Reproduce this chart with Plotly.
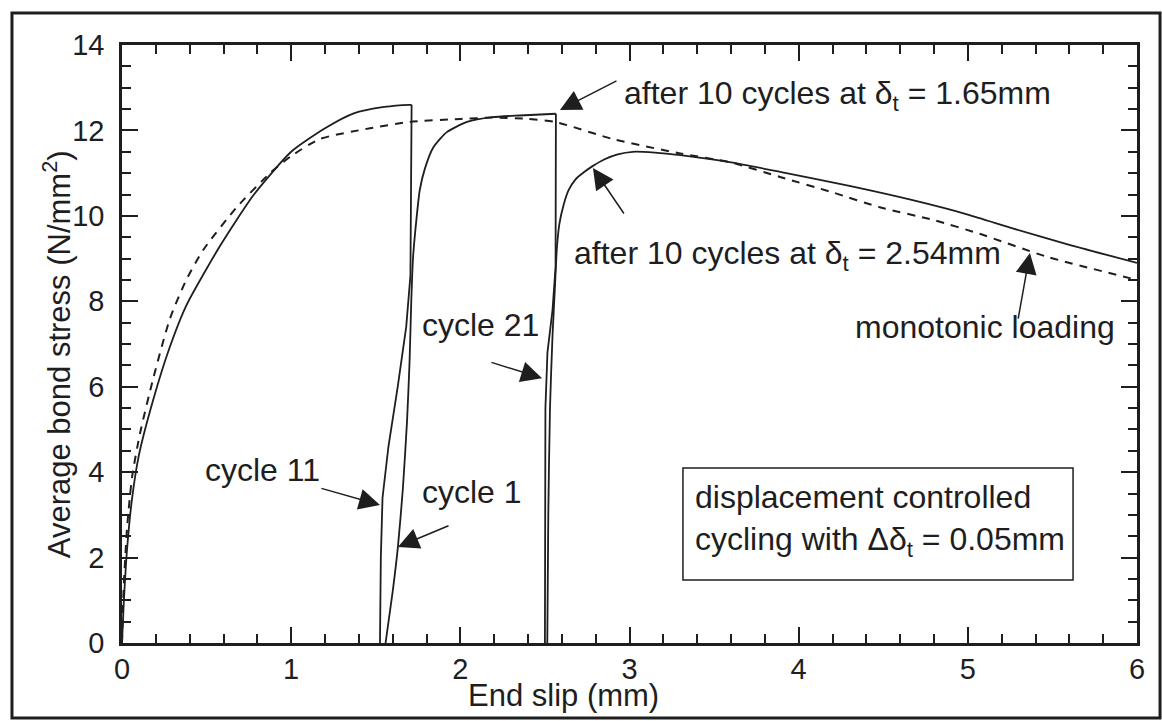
import plotly.graph_objects as go

# ---------------- data ----------------
# monotonic loading (dashed)
mono_x = [0, 0.01, 0.03, 0.06, 0.106, 0.185, 0.284, 0.38, 0.48, 0.678, 0.875, 1.0, 1.17,
          1.466, 1.7, 2.0, 2.2, 2.4, 2.56, 2.9, 3.3, 3.6, 3.89, 4.2, 4.48, 4.8, 5.07, 5.47, 6.0]
mono_y = [0, 1.3, 2.7, 3.9, 4.9, 6.2, 7.6, 8.5, 9.2, 10.2, 11.0, 11.4, 11.8,
          12.05, 12.2, 12.27, 12.3, 12.27, 12.2, 11.8, 11.46, 11.25, 10.91, 10.55, 10.2, 9.9, 9.58, 9.04, 8.5]

# first loading up to the first cycling level
load1_x = [0, 0.01, 0.03, 0.06, 0.1, 0.185, 0.28, 0.38, 0.58, 0.78, 1.0, 1.2, 1.37, 1.55, 1.7, 1.712]
load1_y = [0, 0.9, 2.2, 3.4, 4.4, 5.7, 6.9, 7.9, 9.3, 10.5, 11.5, 12.05, 12.4, 12.55, 12.6, 12.6]

# unloading branch (cycle 11)
unl1_x = [1.712, 1.71, 1.705, 1.68, 1.63, 1.575, 1.54, 1.53, 1.525]
unl1_y = [12.6, 10.5, 8.6, 7.4, 6.0, 4.6, 3.4, 2.0, 0]

# reloading branch (cycle 1) and plateau
rel1_x = [1.558, 1.60, 1.631, 1.66, 1.685, 1.70, 1.71, 1.72, 1.74, 1.76, 1.79, 1.84, 1.92,
          2.04, 2.19, 2.35, 2.565]
rel1_y = [0, 1.2, 2.25, 3.6, 5.2, 6.6, 8.0, 9.0, 9.9, 10.6, 11.1, 11.6, 11.96,
          12.2, 12.31, 12.35, 12.39]

# second unloading branch
unl2_x = [2.565, 2.565, 2.563, 2.545, 2.515, 2.503, 2.50, 2.50]
unl2_y = [12.39, 10.0, 8.8, 7.8, 6.8, 5.5, 3.0, 0]

# reloading branch (cycle 21) and post-peak
rel2_x = [2.514, 2.52, 2.53, 2.545, 2.56, 2.57, 2.585, 2.61, 2.64, 2.68, 2.73, 2.784, 2.85,
          2.93, 3.02, 3.15, 3.3, 3.6, 3.89, 4.3, 4.68, 5.0, 5.27, 5.6, 6.0]
rel2_y = [0, 3.0, 5.5, 7.2, 8.4, 9.2, 9.8, 10.25, 10.6, 10.85, 11.02, 11.17, 11.32,
          11.44, 11.5, 11.48, 11.42, 11.25, 11.03, 10.7, 10.36, 10.03, 9.7, 9.32, 8.9]

x_ticks = [0, 1, 2, 3, 4, 5, 6]
y_ticks = [0, 2, 4, 6, 8, 10, 12, 14]

FONT = "Liberation Sans, Arial, Helvetica, sans-serif"
INK = "#1e1e1e"

fig = go.Figure()
fig.add_trace(go.Scatter(x=mono_x, y=mono_y, mode="lines",
                         line=dict(color=INK, width=2, dash="8px,7px", shape="spline",
                                   smoothing=0.6),
                         showlegend=False))
for xs, ys, shp in [(load1_x, load1_y, "spline"), (unl1_x, unl1_y, "linear"),
                    (rel1_x, rel1_y, "spline"), (unl2_x, unl2_y, "linear"),
                    (rel2_x, rel2_y, "spline")]:
    ln = dict(color=INK, width=1.8, shape=shp)
    if shp == "spline":
        ln["smoothing"] = 0.6
    fig.add_trace(go.Scatter(x=xs, y=ys, mode="lines", line=ln, showlegend=False))

# text labels
texts = [
    ("after 10 cycles at δ<sub>t</sub> = 1.65mm", 2.956, 12.81),
    ("after 10 cycles at δ<sub>t</sub> = 2.54mm", 2.66, 9.08),
    ("monotonic loading", 4.32, 7.40),
    ("cycle 21", 1.761, 7.44),
    ("cycle 11", 0.479, 4.05),
    ("cycle 1", 1.761, 3.54),
    ("displacement controlled", 3.375, 3.418),
    ("cycling with Δδ<sub>t</sub> = 0.05mm", 3.375, 2.388),
]
for t, x, y in texts:
    fig.add_annotation(x=x, y=y, text=t, showarrow=False, xanchor="left", yanchor="middle",
                       font=dict(family=FONT, size=32, color=INK))

# arrows: (tip x, tip y, tail x, tail y)
arrows = [
    (2.589, 12.48, 2.932, 13.18),
    (2.784, 11.12, 2.973, 10.02),
    (5.367, 9.13, 5.296, 7.56),
    (2.483, 6.20, 2.175, 6.58),
    (1.525, 3.23, 1.170, 3.63),
    (1.631, 2.25, 1.939, 2.76),
]
for tx, ty, sx, sy in arrows:
    fig.add_annotation(x=tx, y=ty, ax=sx, ay=sy, axref="x", ayref="y", xref="x", yref="y",
                       text="", showarrow=True, arrowhead=2, arrowsize=2.8, arrowwidth=1.5,
                       arrowcolor=INK)

# box around the note
fig.add_shape(type="rect", x0=3.316, x1=5.622, y0=1.475, y1=4.097, xref="x", yref="y",
              line=dict(color=INK, width=1.5))

# outer frame
fig.add_shape(type="rect", xref="paper", yref="paper", x0=-0.1084, x1=1.0227,
              y0=-0.1254, y1=1.0535, line=dict(color=INK, width=3))

# axis titles
fig.add_annotation(xref="paper", yref="paper", x=0.4345, y=-0.0885, text="End slip (mm)",
                   showarrow=False, xanchor="center", yanchor="middle",
                   font=dict(family=FONT, size=31, color=INK))
fig.add_annotation(xref="paper", yref="paper", x=-0.064, y=0.483,
                   text="Average bond stress (N/mm<sup>2</sup>)", textangle=-90,
                   showarrow=False, xanchor="center", yanchor="middle",
                   font=dict(family=FONT, size=31, color=INK))

axis_common = dict(showgrid=False, zeroline=False, showline=True, linecolor=INK, linewidth=2.5,
                   ticks="inside", ticklen=16, tickwidth=2, tickcolor=INK, mirror="ticks",
                   tickfont=dict(family=FONT, size=29, color=INK))

fig.update_xaxes(range=[0, 6], tickvals=x_ticks, ticktext=[str(v) for v in x_ticks],
                 minor=dict(dtick=0.2, ticks="inside", ticklen=9, tickwidth=1.5, tickcolor=INK),
                 ticklabelstandoff=-2,
                 **axis_common)
fig.update_yaxes(range=[0, 14], tickvals=y_ticks, ticktext=[str(v) for v in y_ticks],
                 minor=dict(dtick=0.5, ticks="inside", ticklen=9, tickwidth=1.5, tickcolor=INK),
                 ticklabelstandoff=9,
                 **axis_common)

fig.update_layout(width=1162, height=721, margin=dict(l=122, r=25, t=45, b=78),
                  paper_bgcolor="white", plot_bgcolor="white",
                  font=dict(family=FONT, color=INK))

fig.write_html("out.html")
